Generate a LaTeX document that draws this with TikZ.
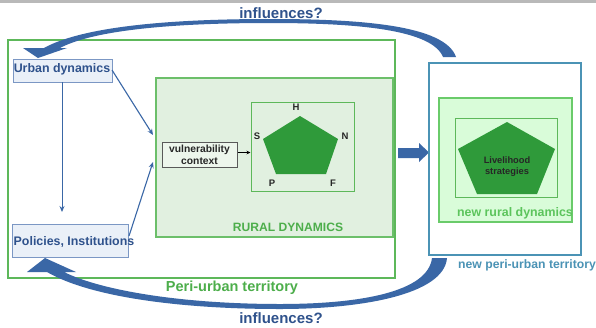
\documentclass[tikz,border=0pt]{standalone}
\usepackage{fontspec}
\setmainfont{Liberation Sans}
\usetikzlibrary{arrows.meta}
\definecolor{arrowblue}{HTML}{3A67A6}
\definecolor{textblue}{HTML}{2F528C}
\definecolor{boxblue}{HTML}{7B97C4}
\definecolor{boxfill}{HTML}{EAF0F8}
\definecolor{peri}{HTML}{5DB85A}
\definecolor{ruralfill}{HTML}{E1F0E0}
\definecolor{ruralline}{HTML}{6CBF6A}
\definecolor{pentgreen}{HTML}{2F9A3A}
\definecolor{newfill}{HTML}{D9FCD9}
\definecolor{newline}{HTML}{6ACB6A}
\definecolor{teal}{HTML}{4B93B5}
\definecolor{txtgreen}{HTML}{4DAE4B}
\definecolor{txtgreen2}{HTML}{5CC45C}
\tikzset{
  x=1pt, y=-1pt,
  ubox/.style={draw=boxblue, fill=boxfill, line width=0.9pt, inner sep=0pt},
  ulabel/.style={text=textblue, font=\bfseries\fontsize{12.4}{14}\selectfont, inner sep=0pt},
  conn/.style={draw=arrowblue, line width=1.1pt, -{Stealth[length=6pt,width=5pt]}},
  greenbox/.style={inner sep=0pt},
  pentlbl/.style={font=\bfseries\fontsize{9.5}{10}\selectfont, text=black!85, inner sep=0pt},
}
\begin{document}
\begin{tikzpicture}
\useasboundingbox (0,0) rectangle (596,327);
\fill[white] (0,0) rectangle (596,327);
\fill[gray!55] (0,0) rectangle (596,3);

% peri-urban territory
\node[greenbox, draw=peri, line width=1.3pt, fill=white, minimum width=387pt, minimum height=238pt] (peri) at (201.5,159) {};
% rural dynamics
\node[greenbox, draw=ruralline, line width=1.1pt, fill=ruralfill, minimum width=237pt, minimum height=159pt] (rural) at (274.5,157.5) {};
% pentagon box
\node[greenbox, draw=peri, line width=1pt, fill=ruralfill, minimum width=103pt, minimum height=89pt] (pbox) at (302.5,146.5) {};
\fill[pentgreen] (300,116) -- (338,139) -- (326,174) -- (276,174) -- (263,139) -- cycle;
\node[pentlbl] (H) at (296,107) {H};
\node[pentlbl] (S) at (257,136) {S};
\node[pentlbl] (N) at (345,136) {N};
\node[pentlbl] (P) at (272,183) {P};
\node[pentlbl] (F) at (333,183) {F};
% vulnerability context
\node[draw=black!65, line width=0.9pt, fill=ruralfill!60!white, minimum width=75pt, minimum height=25pt, inner sep=0pt, align=center, font=\bfseries\fontsize{10.3}{12}\selectfont, text=black!85] (vuln) at (199.5,154.5) {vulnerability\\context};
\draw[line width=0.8pt, -{Stealth[length=4pt,width=3.5pt]}] (vuln.east) ++(1,-2) coordinate (v0) -- (v0 -| pbox.west);
\node[text=txtgreen, font=\bfseries\fontsize{12.1}{14}\selectfont, inner sep=0pt] (rdlbl) at (288,227) {RURAL DYNAMICS};
\node[text=txtgreen, font=\bfseries\fontsize{14.5}{16}\selectfont, inner sep=0pt] (perilbl) at (232,288) {Peri-urban territory};

% urban boxes
\node[ubox, minimum width=99pt, minimum height=23pt] (urban) at (62.5,70.5) {};
\node[ulabel] (urbanlbl) at (62,69.5) {Urban dynamics};
\node[ubox, minimum width=116pt, minimum height=33pt] (policies) at (70,240.5) {};
\node[ulabel] (polilbl) at (74,242) {Policies, Institutions};

\coordinate (urbbot) at (62,82);
\coordinate (polltop) at (62,212);
\draw[conn, line width=0.9pt] (urbbot) -- (polltop);
\coordinate (a1) at (153,135);
\coordinate (a2) at (153,162);
\coordinate (u1) at (112,70);
\coordinate (p1) at (129,236);
\draw[conn] (u1) -- (a1);
\draw[conn] (p1) -- (a2);

% middle big arrow
\fill[arrowblue] (398,148) -- (419,148) -- (419,143) -- (429,152.5) -- (419,162) -- (419,158) -- (398,158) -- cycle;

% new peri-urban territory
\node[greenbox, draw=teal, line width=1.3pt, fill=white, minimum width=152pt, minimum height=192pt] (newperi) at (505,159) {};
\node[greenbox, draw=newline, line width=1.1pt, fill=newfill, minimum width=133pt, minimum height=124pt] (newrural) at (505.5,160) {};
\node[greenbox, draw=peri, line width=1pt, fill=newfill, minimum width=102pt, minimum height=79pt] (lbox) at (506,157.5) {};
\fill[pentgreen] (507,122) -- (555,149) -- (537,194) -- (477,194) -- (458,149) -- cycle;
\node[align=center, font=\bfseries\fontsize{9.3}{11}\selectfont, text=black!85, inner sep=0pt] (liv) at (507,167) {Livelihood\\strategies};
\node[text=txtgreen2, font=\bfseries\fontsize{12.4}{14}\selectfont, inner sep=0pt] (nrlbl) at (515,213) {new rural dynamics};
\node[text=teal, font=\bfseries\fontsize{12.2}{14}\selectfont, inner sep=0pt] (nplbl) at (527,265) {new peri-urban territory};

% curved arrows
\fill[arrowblue] (456,57) .. controls (445,25) and (360,19) .. (270,19)
  .. controls (160,19) and (80,28) .. (44,48) -- (23,48) -- (38,58) -- (67,48) -- (60,48)
  .. controls (90,32) and (160,23) .. (270,23) .. controls (360,23) and (432,30) .. (443,57) -- cycle;
\fill[arrowblue] (447,258) .. controls (444,295) and (360,309) .. (280,309)
  .. controls (180,309) and (90,297) .. (47,272) -- (27,272) -- (45,258) -- (76,272) -- (64,272)
  .. controls (100,290) and (180,304) .. (280,304) .. controls (360,304) and (428,292) .. (432,258) -- cycle;
\node[text=textblue, font=\bfseries\fontsize{15}{17}\selectfont, inner sep=0pt] (inftop) at (281,13) {influences?};
\node[text=textblue, font=\bfseries\fontsize{15}{17}\selectfont, inner sep=0pt] (infbot) at (281,318) {influences?};
\end{tikzpicture}
\end{document}
